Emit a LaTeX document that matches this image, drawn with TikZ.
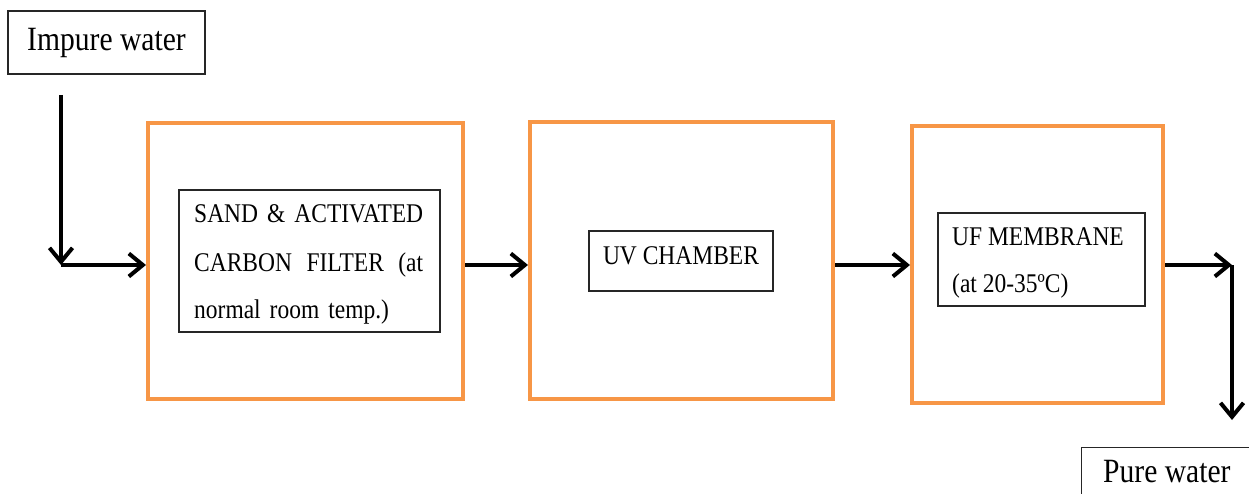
\documentclass[tikz,border=0pt]{standalone}
\usepackage{fontspec}
\setmainfont{Liberation Serif}[FakeStretch=0.87]
\usetikzlibrary{arrows.meta}
\definecolor{stageorange}{HTML}{F79646}
\tikzset{
  stage/.style={draw=stageorange, line width=4pt, fill=white},
  labelbox/.style={draw=black!85, line width=1.4pt, fill=white, inner sep=0pt},
  terminal/.style={draw=black!85, line width=1.4pt, inner sep=0pt, font=\fontsize{34}{40}\selectfont},
  bigtext/.style={inner sep=0pt, font=\fontsize{34}{40}\selectfont},
  flow/.style={draw=black, line width=4pt, -{Straight Barb[length=14pt, width=23pt]}},
}
\begin{document}
\begin{tikzpicture}[x=1pt, y=-1pt]
  \useasboundingbox (0,0) rectangle (1249,494);
  % source and product
  \node[terminal, minimum width=197pt, minimum height=63pt] (impure) at (106.5,42.5) {Impure water};
  \node[terminal, minimum width=200pt, minimum height=70pt, anchor=north west] (pure) at (1081,447) {};
  \node[bigtext, anchor=base west] (puretext) at (1103,482) {Pure water};
  % treatment stages
  \node[stage, minimum width=315pt, minimum height=276pt] (filter) at (305.5,261) {};
  \node[stage, minimum width=303pt, minimum height=277pt] (uv) at (681.5,260.5) {};
  \node[stage, minimum width=251pt, minimum height=277pt] (membrane) at (1037.5,264.5) {};
  % stage labels
  \node[labelbox, minimum width=261pt, minimum height=142pt] (filterbox) at (309.5,261) {};
  \node[text width=229pt, align=left, inner sep=0pt, anchor=base west,
        font=\fontsize{27}{48}\selectfont] (filtertext) at (194,223)
        {SAND \&\hfill ACTIVATED\\ CARBON\hfill FILTER\hfill (at\\ normal room temp.)};
  \node[labelbox, minimum width=184pt, minimum height=60pt] (uvbox) at (681,261) {};
  \node[anchor=base, inner sep=0pt, font=\fontsize{27}{32}\selectfont] (uvtext) at (681,264) {UV CHAMBER};
  \node[labelbox, minimum width=207pt, minimum height=93pt] (membranebox) at (1041.5,259.5) {};
  \node[align=left, inner sep=0pt, anchor=base west, font=\fontsize{27}{47}\selectfont] (membranetext) at (952,292)
        {UF MEMBRANE\\ (at 20-35ºC)};
  % flow lines
  \coordinate (mid) at (0,265);
  \coordinate (inTop) at (61,95);
  \coordinate (inCorner) at (61,265);
  \coordinate (outCorner) at (1232,265);
  \coordinate (outEnd) at (1232,420);
  \draw[flow] (inTop) -- (inCorner);
  \draw[flow] (inCorner) -- (filter.west |- mid);
  \draw[flow] (filter.east |- mid) -- (uv.west |- mid);
  \draw[flow] (uv.east |- mid) -- (membrane.west |- mid);
  \draw[flow] (membrane.east |- mid) -- (outCorner);
  \draw[flow] (outCorner) -- (outEnd);
\end{tikzpicture}
\end{document}
